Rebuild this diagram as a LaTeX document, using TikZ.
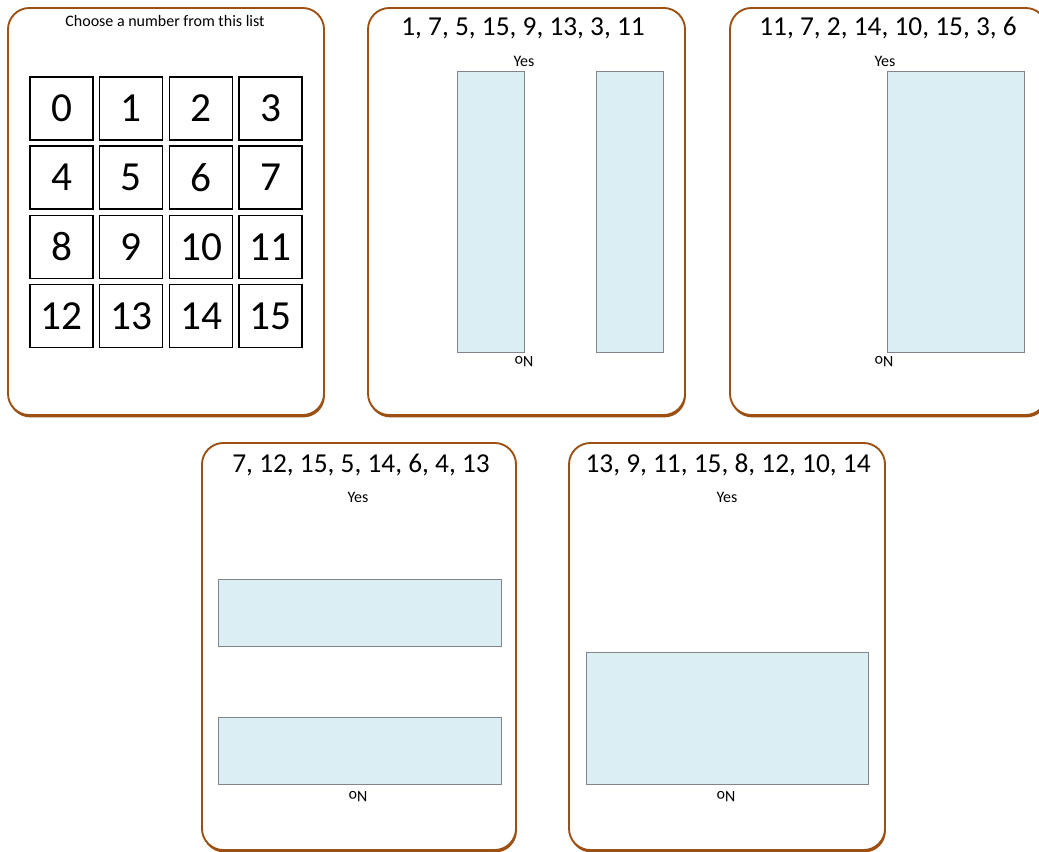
\documentclass[tikz,border=0pt]{standalone}
\usepackage{fontspec}
\setmainfont{Carlito}
\usetikzlibrary{fit,shadows}
\definecolor{cardbrown}{RGB}{156,80,20}
\definecolor{paleblue}{RGB}{219,238,243}
\definecolor{rectedge}{RGB}{128,134,140}
\begin{document}
\begin{tikzpicture}[x=0.75pt,y=-0.75pt,
  card/.style={draw=cardbrown, line width=1.4pt, fill=white, rounded corners=16pt, inner sep=0pt,
    drop shadow={shadow xshift=0.6pt, shadow yshift=-1.8pt, fill=cardbrown, opacity=1}},
  numbox/.style={draw=black, line width=1.1pt, fill=white, minimum size=47pt, inner sep=0pt,
    font=\fontsize{31}{31}\selectfont},
  title/.style={font=\fontsize{20.5}{20.5}\selectfont, inner sep=0pt, anchor=base},
  small/.style={font=\fontsize{12}{12}\selectfont, inner sep=0pt},
  bin/.style={draw=rectedge, fill=paleblue, line width=0.7pt, inner sep=0pt}]
\useasboundingbox (0,0) rectangle (1039,852);
\clip (0,0) rectangle (1039,852);

% cards
\node[card, fit={(8,8) (324,415)}] (c1) {};
\node[card, fit={(368,8) (685,415)}] (c2) {};
\node[card, fit={(730,8) (1047,415)}] (c3) {};
\node[card, fit={(202,443) (516,850)}] (c4) {};
\node[card, fit={(569,443) (885,850)}] (c5) {};

% card 1
\node[small, anchor=base] (t1) at (165,27) {Choose a number from this list};
\foreach \n/\x/\y in {0/61.5/108.5, 1/131/108.5, 2/201/108.5, 3/270.5/108.5,
                      4/61.5/177.5, 5/131/177.5, 6/201/177.5, 7/270.5/177.5,
                      8/61.5/247, 9/131/247, 10/201/247, 11/270.5/247,
                      12/61.5/316, 13/131/316, 14/201/316, 15/270.5/316}
  \node[numbox] (n\n) at (\x,\y) {\n};

% card 2
\node[title] (t2) at (523,36) {1, 7, 5, 15, 9, 13, 3, 11};
\node[small, anchor=base] (y2) at (524,66.5) {Yes};
\node[bin, fit={(457,71) (524,352)}] (b2a) {};
\node[bin, fit={(596,71) (663,352)}] (b2b) {};
\node[small, rotate=180] (no2) at (524,362) {No};

% card 3
\node[title] (t3) at (888,36) {11, 7, 2, 14, 10, 15, 3, 6};
\node[small, anchor=base] (y3) at (885,66.5) {Yes};
\node[bin, fit={(887,71) (1024,352)}] (b3) {};
\node[small, rotate=180] (no3) at (884,362) {No};

% card 4
\node[title] (t4) at (361,472.5) {7, 12, 15, 5, 14, 6, 4, 13};
\node[small, anchor=base] (y4) at (358,502) {Yes};
\node[bin, fit={(218,579) (501,646)}] (b4a) {};
\node[bin, fit={(218,717) (501,784)}] (b4b) {};
\node[small, rotate=180] (no4) at (358,797) {No};

% card 5
\node[title] (t5) at (728,472.5) {13, 9, 11, 15, 8, 12, 10, 14};
\node[small, anchor=base] (y5) at (727,502) {Yes};
\node[bin, fit={(586,652) (868,784)}] (b5) {};
\node[small, rotate=180] (no5) at (726,797) {No};
\end{tikzpicture}
\end{document}
